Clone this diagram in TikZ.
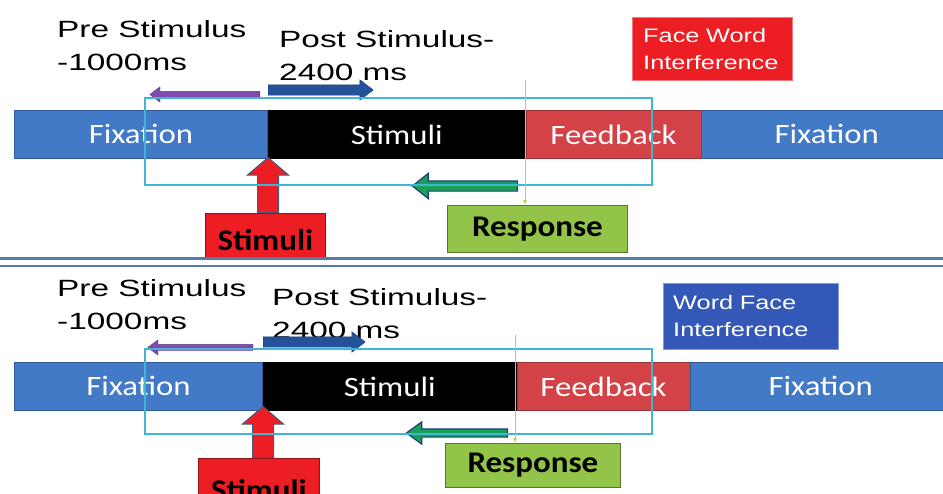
\documentclass[tikz,border=0pt]{standalone}
\usepackage{fontspec}
\setmainfont{Liberation Sans}
\newfontfamily\widesans[FakeStretch=1.42]{Liberation Sans}
\newfontfamily\boxsans[FakeStretch=1.3]{Liberation Sans}
\newfontfamily\barfont[FakeStretch=1.17]{Carlito}
\newfontfamily\labfont[FakeStretch=1.1]{Carlito}
\usetikzlibrary{shapes.arrows}
\usetikzlibrary{arrows.meta}
\definecolor{fixblue}{RGB}{66,122,200}
\definecolor{feedred}{RGB}{210,66,70}
\definecolor{stimred}{RGB}{236,30,36}
\definecolor{respgreen}{RGB}{146,196,74}
\definecolor{condblue}{RGB}{52,88,184}
\definecolor{framecyan}{RGB}{64,182,212}
\definecolor{cuegreen}{RGB}{172,212,96}
\definecolor{prepurple}{RGB}{128,74,176}
\definecolor{postblue}{RGB}{36,82,154}
\definecolor{arrgreen}{RGB}{24,160,84}
\definecolor{edgeblue}{RGB}{34,62,130}
\definecolor{sepblue}{RGB}{88,122,166}
\begin{document}
\begin{tikzpicture}[x=1pt,y=-1pt,
seg/.style={draw=#1!75!black,fill=#1,line width=.8pt,inner sep=0pt,minimum height=48pt,anchor=north west,text=white,font=\barfont\fontsize{28}{30}\selectfont},
tword/.style={anchor=north west,inner sep=0pt,align=left,font=\widesans\fontsize{23.5}{33}\selectfont},
cond/.style={fill=#1,draw=#1!60!white,anchor=north west,text=white,align=left,font=\boxsans\fontsize{19.5}{27}\selectfont},
lab/.style={fill=#1,draw=#1!60!black,line width=.8pt,anchor=north west,inner sep=0pt,font=\labfont\bfseries\fontsize{30}{32}\selectfont},
blockarr/.style={single arrow,inner xsep=0pt,single arrow head indent=0pt,anchor=tail},
frame/.style={draw=framecyan,line width=2pt},
cue/.style={draw=cuegreen,line width=1pt,-{Latex[length=5pt,width=4pt]}},
sepline/.style={draw=sepblue,line width=2.5pt}]
\useasboundingbox (0,0) rectangle (943,493);
\clip (0,0) rectangle (943,493);
%face word
\node[seg=fixblue,minimum width=253pt] (fixTl) at (14,110) {Fixation};
\node[seg=black,minimum width=257pt] (stimbarT) at (fixTl.north east) {Stimuli};
\node[seg=feedred,minimum width=175pt] (feedT) at (stimbarT.north east) {Feedback};
\node[seg=fixblue,minimum width=250pt] (fixTr) at (feedT.north east) {Fixation};
\node[tword] (preT) at (57,20) {Pre Stimulus\\-1000ms};
\node[tword] (postT) at (279,30) {Post Stimulus-\\2400 ms};
\node[cond=stimred,minimum height=63pt,inner xsep=11pt,text width=138pt] (condT) at (632,17) {Face Word\\Interference};
\node[lab=stimred,minimum width=120pt,minimum height=45pt,text height=29pt,text depth=0pt] (stimT) at (205,213) {Stimuli};
\node[lab=respgreen,minimum width=180pt,minimum height=47pt] (respT) at (447,205) {Response};
\node[blockarr,fill=prepurple,draw=prepurple!80!black,line width=.4pt,minimum height=110pt,inner ysep=3pt,single arrow head extend=4.5pt,single arrow tip angle=74,rotate=180] (preArrT) at (260,94.5) {};
\node[blockarr,fill=postblue,draw=postblue!70!black,line width=.4pt,minimum height=105pt,inner ysep=5pt,single arrow head extend=5pt,single arrow tip angle=75] (postArrT) at (268,90) {};
\node[blockarr,fill=arrgreen,draw=edgeblue,line width=1.2pt,minimum height=105pt,inner ysep=4.5pt,single arrow head extend=7.5pt,single arrow tip angle=77,rotate=180] (respArrT) at (518,186) {};
\node[blockarr,fill=stimred,draw=edgeblue!60!gray,line width=1pt,minimum height=55pt,inner ysep=10pt,single arrow head extend=10pt,single arrow tip angle=99,rotate=90] (stimArrT) at (268,213) {};
\draw[frame] (145,98) rectangle (652,185);
\coordinate (cueT) at (525,80);
\draw[cue] (cueT) -- (cueT |- respT.north);
%separator
\draw[sepline] (0,258.5) -- (943,258.5);
\draw[sepline] (0,266) -- (943,266);
%word face
\node[seg=fixblue,minimum width=248pt] (fixBl) at (14,362) {Fixation};
\node[seg=black,minimum width=253pt] (stimbarB) at (fixBl.north east) {Stimuli};
\node[seg=feedred,minimum width=173pt] (feedB) at (stimbarB.north east) {Feedback};
\node[seg=fixblue,minimum width=260pt] (fixBr) at (feedB.north east) {Fixation};
\node[tword] (preB) at (57,279) {Pre Stimulus\\-1000ms};
\node[tword] (postB) at (272,288) {Post Stimulus-\\2400 ms};
\node[cond=condblue,minimum height=66pt,inner xsep=10pt,text width=155pt] (condB) at (663,283) {Word Face\\Interference};
\node[lab=stimred,minimum width=121pt,minimum height=52pt,text height=32pt,text depth=0pt] (stimB) at (198,458) {Stimuli};
\node[lab=respgreen,minimum width=175pt,minimum height=44pt] (respB) at (445,443) {Response};
\node[blockarr,fill=prepurple,draw=prepurple!80!black,line width=.4pt,minimum height=105pt,inner ysep=3pt,single arrow head extend=4.5pt,single arrow tip angle=74,rotate=180] (preArrB) at (253,347.5) {};
\node[blockarr,fill=postblue,draw=postblue!70!black,line width=.4pt,minimum height=102pt,inner ysep=5pt,single arrow head extend=5pt,single arrow tip angle=75] (postArrB) at (263,342) {};
\node[blockarr,fill=arrgreen,draw=edgeblue,line width=1.2pt,minimum height=101pt,inner ysep=3.5pt,single arrow head extend=7pt,single arrow tip angle=72,rotate=180] (respArrB) at (508,433) {};
\node[blockarr,fill=stimred,draw=edgeblue!60!gray,line width=1pt,minimum height=51pt,inner ysep=10pt,single arrow head extend=10pt,single arrow tip angle=99,rotate=90] (stimArrB) at (263,458) {};
\draw[frame] (145,349) rectangle (652,434);
\coordinate (cueB) at (515,335);
\draw[cue] (cueB) -- (cueB |- respB.north);
\end{tikzpicture}
\end{document}
